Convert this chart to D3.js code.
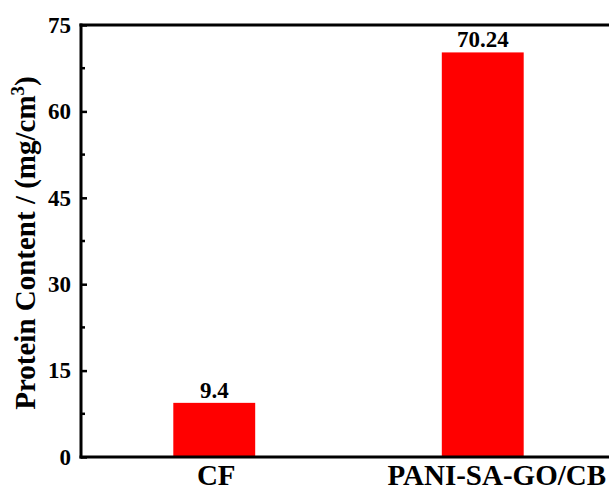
<!DOCTYPE html>
<html><head><meta charset="utf-8">
<script src="https://cdn.jsdelivr.net/npm/d3@7"></script>
<style>body{margin:0;background:#fff;overflow:hidden;} text{font-family:"Liberation Serif","Times New Roman",serif;font-weight:bold;}</style>
</head><body>
<svg id="c" width="609" height="490"></svg>
<script>
const categories = ["CF", "PANI-SA-GO/CB"];
const values = [9.4, 70.24];
const valueLabels = ["9.4", "70.24"];
const yTicks = [0, 15, 30, 45, 60, 75];
const yMinorTicks = [7.5, 22.5, 37.5, 52.5, 67.5];

(function () {
const svg = d3.select("#c");
const mLeft = 81, mTop = 25, mBottom = 457, mRight = 618;
const y = d3.scaleLinear().domain([0, 75]).range([mBottom, mTop]);
const x = d3.scaleBand().domain(categories).range([mLeft - 1, mRight - 1]).paddingInner(0.695).paddingOuter(0.3475);

// bars
svg.selectAll("rect.bar").data(values).enter().append("rect")
  .attr("x", (d, i) => x(categories[i]))
  .attr("width", x.bandwidth())
  .attr("y", d => y(d))
  .attr("height", d => y(0) - y(d))
  .attr("fill", "#ff0000");

// value labels
svg.selectAll("text.val").data(values).enter().append("text")
  .attr("x", (d, i) => x(categories[i]) + x.bandwidth() / 2)
  .attr("y", d => y(d) - 5)
  .attr("text-anchor", "middle")
  .attr("font-size", 23)
  .text((d, i) => valueLabels[i]);

// y axis
const yAxis = d3.axisLeft(y).tickValues(yTicks).tickSize(-6).tickPadding(10);
const gy = svg.append("g").attr("transform", `translate(${mLeft},0)`).call(yAxis);
gy.select(".domain").remove();
gy.selectAll(".tick line").attr("stroke", "#000").attr("stroke-width", 2.5);
gy.selectAll(".tick text").attr("font-size", 23).attr("fill", "#000")
  .attr("font-family", "Liberation Serif").attr("font-weight", "bold");
svg.append("g").selectAll("line").data(yMinorTicks).enter().append("line")
  .attr("x1", mLeft).attr("x2", mLeft + 4)
  .attr("y1", d => y(d)).attr("y2", d => y(d))
  .attr("stroke", "#000").attr("stroke-width", 2.5);

// frame lines
svg.append("line").attr("x1", mLeft).attr("x2", mLeft).attr("y1", mTop - 1.5).attr("y2", mBottom + 1.5)
  .attr("stroke", "#000").attr("stroke-width", 3);
svg.append("line").attr("x1", mLeft - 1.5).attr("x2", 700).attr("y1", mBottom).attr("y2", mBottom)
  .attr("stroke", "#000").attr("stroke-width", 3);
svg.append("line").attr("x1", mLeft - 1.5).attr("x2", 700).attr("y1", mTop).attr("y2", mTop)
  .attr("stroke", "#000").attr("stroke-width", 3);

// x labels
const xLabelShift = [2, 14];
svg.selectAll("text.xl").data(categories).enter().append("text")
  .attr("x", (d, i) => x(d) + x.bandwidth() / 2 + xLabelShift[i])
  .attr("y", 485)
  .attr("text-anchor", "middle")
  .attr("font-size", 29)
  .text(d => d);

// y title
const yt = svg.append("text")
  .attr("transform", "translate(35,243) rotate(-90)")
  .attr("text-anchor", "middle")
  .attr("font-size", 29);
yt.append("tspan").text("Protein Content / (mg/cm");
yt.append("tspan").attr("dy", -11).attr("font-size", 19).text("3");
yt.append("tspan").attr("dy", 11).text(")");
})();
</script>
</body></html>
